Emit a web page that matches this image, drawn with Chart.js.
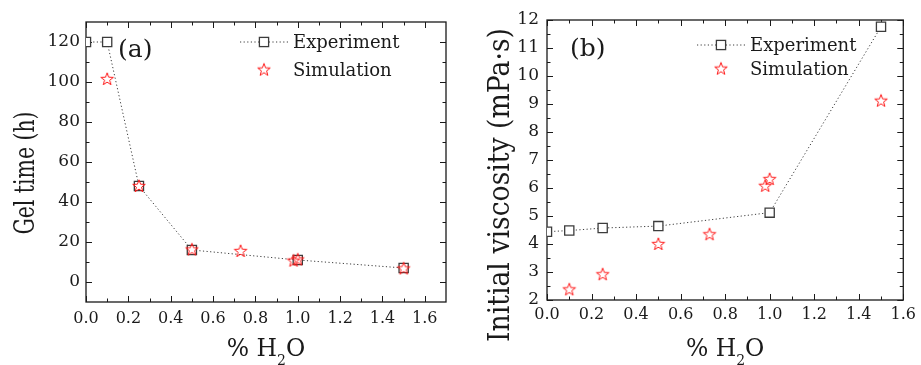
<!DOCTYPE html>
<html>
<head>
<meta charset="utf-8">
<script src="https://cdn.jsdelivr.net/npm/chart.js@4.4.1/dist/chart.umd.min.js"></script>
<style>
  html, body { margin: 0; padding: 0; background: #fff; }
  #wrap { position: relative; width: 921px; height: 365px; overflow: hidden; }
  canvas { position: absolute; top: 0; }
</style>
</head>
<body>
<div id="wrap">
  <canvas id="gel" width="460" height="365" style="left:0"></canvas>
  <canvas id="visc" width="461" height="365" style="left:460px"></canvas>
</div>
<script>
// (a) gel time vs % H2O
const gelExpX = [0, 0.1, 0.25, 0.5, 1.0, 1.5];
const gelExpY = [120, 120, 48, 16, 11, 7];
const gelSimX = [0.1, 0.25, 0.5, 0.73, 0.98, 1.0, 1.5];
const gelSimY = [101.5, 48, 16.3, 15.5, 10.7, 11.3, 6.8];

// (b) initial viscosity vs % H2O
const viscExpX = [0, 0.1, 0.25, 0.5, 1.0, 1.5];
const viscExpY = [4.44, 4.48, 4.57, 4.64, 5.12, 11.76];
const viscSimX = [0.1, 0.25, 0.5, 0.73, 0.98, 1.0, 1.5];
const viscSimY = [2.38, 2.92, 4.0, 4.35, 6.08, 6.32, 9.12];

// tick labels
const xTicks = [0, 0.2, 0.4, 0.6, 0.8, 1.0, 1.2, 1.4, 1.6];
const gelTicks = [0, 20, 40, 60, 80, 100, 120];
const viscTicks = [2, 3, 4, 5, 6, 7, 8, 9, 10, 11, 12];

const FONT = "'DejaVu Serif', 'Liberation Serif', serif";
const INK = "#1a1a1a";
const GREY = "#3c3c3c";
const RED = "#ff1a1a";

// open red five-point star used as point style
function makeStar() {
  const c = document.createElement("canvas");
  c.width = 16; c.height = 16;
  const g = c.getContext("2d");
  g.strokeStyle = RED;
  g.lineWidth = 1;
  g.beginPath();
  for (let i = 0; i < 10; i++) {
    const r = i % 2 === 0 ? 6.6 : 2.7;
    const a = -Math.PI / 2 + i * Math.PI / 5;
    const px = 8 + r * Math.cos(a), py = 8.4 + r * Math.sin(a);
    i === 0 ? g.moveTo(px, py) : g.lineTo(px, py);
  }
  g.closePath();
  g.stroke();
  return c;
}
const star = makeStar();

const pts = (xs, ys) => xs.map((x, i) => ({ x, y: ys[i] }));
const mids = (arr) => arr.slice(1).map((v, i) => (v + arr[i]) / 2);

function drawSquare(ctx, x, y) {
  ctx.save();
  ctx.fillStyle = "#fff";
  ctx.strokeStyle = GREY;
  ctx.lineWidth = 1.3;
  ctx.fillRect(x - 4.6, y - 4.6, 9.2, 9.2);
  ctx.strokeRect(x - 4.6, y - 4.6, 9.2, 9.2);
  ctx.restore();
}

// frame, inward ticks, legend, titles
const decor = {
  id: "decor",
  beforeDatasetsDraw(chart, args, o) {
    const { ctx, chartArea: a, scales: { x, y } } = chart;
    ctx.save();
    ctx.strokeStyle = INK;
    ctx.lineWidth = 1.3;
    ctx.strokeRect(a.left, a.top, a.right - a.left, a.bottom - a.top);
    ctx.lineWidth = 1;
    ctx.beginPath();
    const tx = (v, len) => {
      const p = Math.round(x.getPixelForValue(v)) + 0.5;
      ctx.moveTo(p, a.bottom); ctx.lineTo(p, a.bottom - len);
      ctx.moveTo(p, a.top); ctx.lineTo(p, a.top + len);
    };
    const ty = (v, len) => {
      const p = Math.round(y.getPixelForValue(v)) + 0.5;
      ctx.moveTo(a.left, p); ctx.lineTo(a.left + len, p);
      ctx.moveTo(a.right, p); ctx.lineTo(a.right - len, p);
    };
    o.xTicks.forEach(v => tx(v, 6));
    mids(o.xTicks).forEach(v => tx(v, 3.5));
    o.yTicks.forEach(v => ty(v, 6));
    mids(o.yTicks).forEach(v => ty(v, 3.5));
    ctx.stroke();
    ctx.restore();
  },
  afterDraw(chart, args, o) {
    const { ctx, chartArea: a } = chart;
    ctx.save();
    ctx.fillStyle = INK;

    // panel label
    ctx.font = "25px " + FONT;
    ctx.textAlign = "left";
    ctx.textBaseline = "alphabetic";
    ctx.fillText(o.panel, a.left + o.panelDx, o.panelY);

    // legend
    const lx = a.left + o.legDx, ly = o.legY;
    ctx.strokeStyle = GREY;
    ctx.lineWidth = 1;
    ctx.setLineDash([1.2, 2.4]);
    ctx.beginPath();
    ctx.moveTo(lx, ly); ctx.lineTo(lx + 48, ly);
    ctx.stroke();
    ctx.setLineDash([]);
    drawSquare(ctx, lx + 24, ly);
    ctx.drawImage(star, lx + 16, ly + o.legGap - 8.4);
    ctx.font = "18px " + FONT;
    ctx.textBaseline = "middle";
    ctx.fillText("Experiment", lx + 53, ly + 1);
    ctx.fillText("Simulation", lx + 53, ly + o.legGap + 1);

    // x title with subscript
    ctx.textBaseline = "alphabetic";
    const big = "23.5px " + FONT, small = "14px " + FONT;
    ctx.font = big;
    const w1 = ctx.measureText("% H").width, w3 = ctx.measureText("O").width;
    ctx.font = small;
    const w2 = ctx.measureText("2").width;
    let sx = (a.left + a.right) / 2 - (w1 + w2 + w3) / 2;
    const by = 356;
    ctx.font = big; ctx.fillText("% H", sx, by); sx += w1;
    ctx.font = small; ctx.fillText("2", sx, by + 9); sx += w2;
    ctx.font = big; ctx.fillText("O", sx, by);

    // y title, fitted to the reference length
    ctx.font = o.yFont + "px " + FONT;
    const tw = ctx.measureText(o.yTitle).width;
    ctx.translate(o.yBase, o.yMid);
    ctx.rotate(-Math.PI / 2);
    ctx.scale(o.yLen / tw, 1);
    ctx.textAlign = "center";
    ctx.fillText(o.yTitle, 0, 0);
    ctx.restore();
  }
};

function makeChart(id, cfg) {
  return new Chart(document.getElementById(id), {
    type: "scatter",
    data: {
      datasets: [
        {
          label: "Simulation",
          data: pts(cfg.simX, cfg.simY),
          pointStyle: star,
          showLine: false,
          order: 0
        },
        {
          label: "Experiment",
          data: pts(cfg.expX, cfg.expY),
          showLine: true,
          borderColor: GREY,
          borderWidth: 1,
          borderDash: [1.2, 2.4],
          pointStyle: "rect",
          pointRadius: 6.5,
          pointBorderWidth: 1.3,
          pointBorderColor: GREY,
          pointBackgroundColor: "#fff",
          clip: { left: 0, top: false, right: false, bottom: false },
          order: 1
        }
      ]
    },
    options: {
      responsive: false,
      animation: false,
      devicePixelRatio: 1,
      layout: { padding: { left: 0, right: 14, top: cfg.top, bottom: 0 } },
      plugins: {
        legend: { display: false },
        tooltip: { enabled: false },
        decor: cfg.decor
      },
      scales: {
        x: {
          type: "linear",
          min: 0,
          max: cfg.xMax,
          afterBuildTicks: s => { s.ticks = xTicks.map(v => ({ value: v })); },
          afterFit: s => { s.height = 365 - cfg.bottom; },
          ticks: {
            callback: v => v.toFixed(1),
            font: { family: FONT, size: 16 },
            color: INK,
            padding: cfg.xPad,
            maxRotation: 0
          },
          grid: { display: false, drawTicks: false },
          border: { display: false }
        },
        y: {
          min: cfg.yMin,
          max: cfg.yMax,
          afterBuildTicks: s => { s.ticks = cfg.yTicks.map(v => ({ value: v })); },
          afterFit: s => { s.width = cfg.left; },
          ticks: {
            font: { family: FONT, size: 17 },
            color: INK,
            padding: cfg.yPad
          },
          grid: { display: false, drawTicks: false },
          border: { display: false }
        }
      }
    },
    plugins: [decor]
  });
}

makeChart("gel", {
  expX: gelExpX, expY: gelExpY, simX: gelSimX, simY: gelSimY,
  xMax: 1.7, yMin: -10, yMax: 130, yTicks: gelTicks,
  left: 86, top: 22, bottom: 302, xPad: 7, yPad: 6,
  decor: {
    xTicks, yTicks: gelTicks,
    panel: "(a)", panelDx: 32, panelY: 57,
    legDx: 154, legY: 42, legGap: 28,
    yTitle: "Gel time (h)", yFont: 28, yBase: 34, yMid: 173, yLen: 123
  }
});

makeChart("visc", {
  expX: viscExpX, expY: viscExpY, simX: viscSimX, simY: viscSimY,
  xMax: 1.6, yMin: 2, yMax: 12, yTicks: viscTicks,
  left: 87, top: 20, bottom: 300, xPad: 5, yPad: 8,
  decor: {
    xTicks, yTicks: viscTicks,
    panel: "(b)", panelDx: 23, panelY: 56,
    legDx: 150, legY: 45, legGap: 24,
    yTitle: "Initial viscosity (mPa\u00b7s)", yFont: 30, yBase: 48.5, yMid: 185, yLen: 314
  }
});
</script>
</body>
</html>
